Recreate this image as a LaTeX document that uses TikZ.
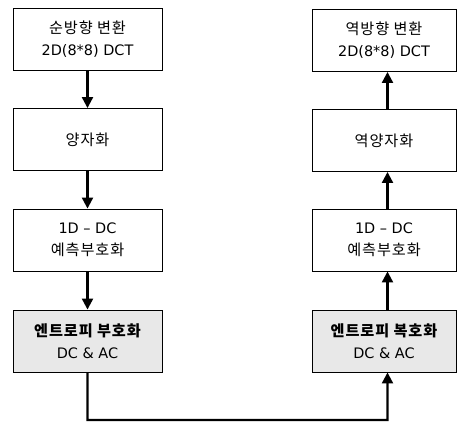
\documentclass[tikz,border=0pt]{standalone}
\usepackage{fontspec}
\setmainfont{DejaVu Sans}
\newfontfamily\kr[Scale=1.05,LetterSpace=6]{Noto Sans CJK KR}
\usetikzlibrary{arrows.meta}
\begin{document}
\begin{tikzpicture}[x=1bp,y=-1bp,
  blk/.style={draw=black,line width=0.9bp,minimum height=62bp,align=center,
    font=\fontsize{14.5}{22}\selectfont,inner sep=0pt},
  lbox/.style={blk,minimum width=149bp},
  rbox/.style={blk,minimum width=144bp},
  shade/.style={fill=black!9},
  flow/.style={line width=2.2bp,-{Triangle[width=11bp,length=11bp]}}]
\useasboundingbox (0,0) rectangle (457,422);
% left column
\node[lbox] (l1) at (87.5,39.5) {{\kr 순방향 변환}\\2D(8*8) DCT};
\node[lbox] (l2) at (87.5,139.5) {\kr 양자화};
\node[lbox] (l3) at (87.5,240) {1D -- DC\\{\kr 예측부호화}};
\node[lbox,shade] (l4) at (87.5,341) {{\kr\bfseries 엔트로피 부호화}\\DC \& AC};
% right column
\node[rbox] (r1) at (384,40.5) {{\kr 역방향 변환}\\2D(8*8) DCT};
\node[rbox] (r2) at (384,140.5) {\kr 역양자화};
\node[rbox] (r3) at (384,240) {1D -- DC\\{\kr 예측부호화}};
\node[rbox,shade] (r4) at (384,341) {{\kr\bfseries 엔트로피 복호화}\\DC \& AC};
% arrows
\draw[flow] (l1.south) -- (l2.north);
\draw[flow] (l2.south) -- (l3.north);
\draw[flow] (l3.south) -- (l4.north);
\draw[flow] ([xshift=3.5bp]r2.north) -- ([xshift=3.5bp]r1.south);
\draw[flow] ([xshift=3.5bp]r3.north) -- ([xshift=3.5bp]r2.south);
\draw[flow] ([xshift=3.5bp]r4.north) -- ([xshift=3.5bp]r3.south);
\coordinate (c1) at (87.5,420);
\coordinate (c2) at (387.5,420);
\draw[flow,line join=miter] (l4.south) -- (c1) -- (c2) -- ([xshift=3.5bp]r4.south);
\end{tikzpicture}
\end{document}
